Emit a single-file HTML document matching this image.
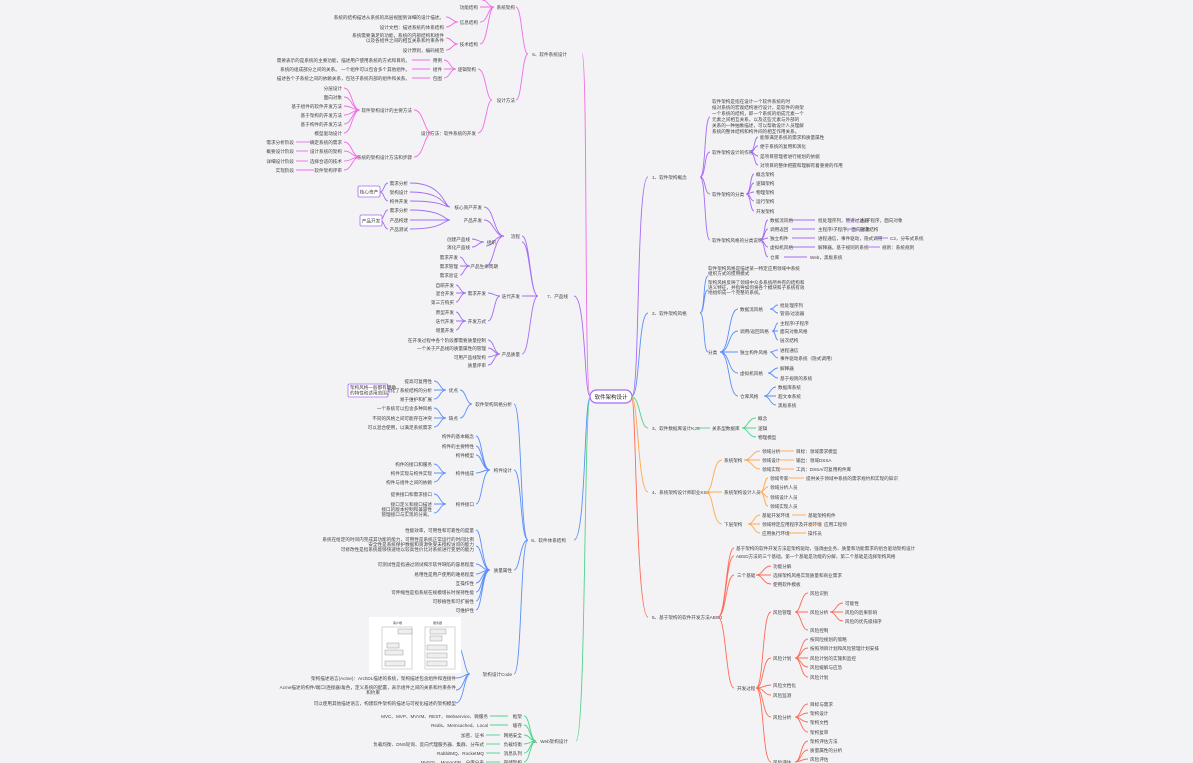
<!DOCTYPE html>
<html><head><meta charset="utf-8"><style>
html,body{margin:0;padding:0;background:#f3f2f5;}
svg{display:block;font-family:"Liberation Sans","Noto Sans CJK SC",sans-serif;}
text{font-size:4.6px;fill:#444;}
.pk{stroke:#f26ce6}.pu{stroke:#a66cf5}.bl{stroke:#5b8ff9}.gr{stroke:#4fd48a}.or{stroke:#ffa94d}.rd{stroke:#ff6b57}
path,line{fill:none;stroke-width:0.9}
</style></head><body>
<svg width="1193" height="763" viewBox="0 0 1193 763" xmlns="http://www.w3.org/2000/svg">
<rect width="1193" height="763" fill="#f3f2f5"/>

<!-- ROOT -->
<rect x="590" y="390" width="42" height="13" rx="6.5" fill="#fff" stroke="#a66cf5" stroke-width="1.2"/>
<text x="611" y="399" text-anchor="middle" style="font-size:5.5px;fill:#222">软件架构设计</text>

<!-- ===== RIGHT SIDE ===== -->
<!-- trunk connectors -->
<path class="pu" d="M632 396 C640 396,636 177,648 177"/>
<path class="bl" d="M632 396 C640 396,638 313,648 313"/>
<path class="gr" d="M632 397 C640 397,640 428,648 428"/>
<path class="or" d="M632 398 C638 398,638 492,648 492"/>
<path class="rd" d="M632 399 C636 399,636 617,648 617"/>

<!-- Branch 1 purple -->
<text x="652" y="179">1、软件架构概念</text>
<path class="pu" d="M700 177 C706 177,704 117,710 117 M700 177 C706 177,704 152,710 152 M700 177 C706 177,704 194,710 194 M700 177 C706 177,704 240,710 240"/>
<text x="712" y="103">软件架构是指在设计一个软件系统的时</text>
<text x="712" y="109">候对系统的宏观结构进行设计，是软件的骨架</text>
<text x="712" y="115">一个系统的结构，即一个系统的组成元素一个</text>
<text x="712" y="121">元素之间相互关系，以及这些元素与外部的</text>
<text x="712" y="127">关系的一种抽象描述，可以帮助设计人员理解</text>
<text x="712" y="133">系统的整体结构和构件间的相互作用关系。</text>
<text x="712" y="154">软件架构设计的作用</text>
<path class="pu" d="M750 152 C755 152,754 137,758 137 M750 152 C755 152,754 146,758 146 M750 152 C755 152,754 156,758 156 M750 152 C755 152,754 165,758 165"/>
<text x="760" y="139">能够满足系统的需求和质量属性</text>
<text x="760" y="148">便于系统的复用和演化</text>
<text x="760" y="158">是项目管理者进行规划的依据</text>
<text x="760" y="167">对项目的整体把握和理解有着重要的作用</text>
<text x="712" y="196">软件架构的分类</text>
<path class="pu" d="M746 194 C751 194,750 174,754 174 M746 194 C751 194,750 183,754 183 M746 194 C751 194,750 192,754 192 M746 194 C751 194,750 201,754 201 M746 194 C751 194,750 211,754 211"/>
<text x="756" y="176">概念架构</text><text x="756" y="185">逻辑架构</text><text x="756" y="194">物理架构</text><text x="756" y="203">运行架构</text><text x="756" y="213">开发架构</text>
<text x="712" y="242">软件架构风格的分类说明</text>
<path class="pu" d="M760 240 C765 240,764 220,768 220 M760 240 C765 240,764 229,768 229 M760 240 C765 240,764 238,768 238 M760 240 C765 240,764 247,768 247 M760 240 C765 240,764 257,768 257"/>
<text x="770" y="222">数据流风格</text><text x="770" y="231">调用返回</text><text x="770" y="240">独立构件</text><text x="770" y="249">虚拟机风格</text><text x="770" y="259">仓库</text>
<line class="pu" x1="792" y1="220" x2="815" y2="220"/><text x="818" y="222">批处理序列，管道过滤器</text><line class="pu" x1="846" y1="220" x2="858" y2="220"/><text x="860" y="222">主/子程序，面向对象</text>
<line class="pu" x1="792" y1="229" x2="815" y2="229"/><text x="818" y="231">主程序/子程序，面向对象</text><line class="pu" x1="846" y1="229" x2="858" y2="229"/><text x="860" y="231">层次结构</text>
<line class="pu" x1="792" y1="238" x2="815" y2="238"/><text x="818" y="240">进程通信，事件驱动，隐式调用</text><line class="pu" x1="876" y1="238" x2="888" y2="238"/><text x="890" y="240">C2，分布式系统</text>
<line class="pu" x1="792" y1="247" x2="815" y2="247"/><text x="818" y="249">解释器，基于规则的系统</text><line class="pu" x1="868" y1="247" x2="880" y2="247"/><text x="882" y="249">规则：系统规则</text>
<line class="pu" x1="784" y1="257" x2="807" y2="257"/><text x="810" y="259">Web，黑板系统</text>

<!-- Branch 2 blue -->
<text x="652" y="315">2、软件架构风格</text>
<path class="bl" d="M700 313 C705 313,703 276,708 276 M700 313 C705 313,703 290,708 290 M700 313 C705 313,703 352,708 352"/>
<text x="708" y="270">软件架构风格是描述某一特定应用领域中系统</text><text x="708" y="275">组织方式的惯用模式</text>
<text x="708" y="284">架构风格反映了领域中众多系统所共有的结构和</text><text x="708" y="289">语义特征，并指导如何将各个模块和子系统有效</text><text x="708" y="294">地组织成一个完整的系统。</text>
<text x="708" y="354">分类</text>
<path class="bl" d="M720 352 C730 352,728 309,738 309 M720 352 C730 352,728 331,738 331 M720 352 L738 352 M720 352 C730 352,728 373,738 373 M720 352 C730 352,728 396,738 396"/>
<text x="740" y="311">数据流风格</text><text x="740" y="333">调用/返回风格</text><text x="740" y="354">独立构件风格</text><text x="740" y="375">虚拟机风格</text><text x="740" y="398">仓库风格</text>
<path class="bl" d="M770 309 C775 309,774 305,778 305 M770 309 C775 309,774 313,778 313"/>
<text x="780" y="307">批处理序列</text><text x="780" y="315">管道/过滤器</text>
<path class="bl" d="M772 331 C776 331,775 323,778 323 M772 331 L778 331 M772 331 C776 331,775 340,778 340"/>
<text x="780" y="325">主程序/子程序</text><text x="780" y="333">面向对象风格</text><text x="780" y="342">层次结构</text>
<path class="bl" d="M770 352 C774 352,774 350,778 350 M770 352 C774 352,774 358,778 358"/>
<text x="780" y="352">进程通信</text><text x="780" y="360">事件驱动系统（隐式调用）</text>
<path class="bl" d="M768 373 C773 373,773 368,778 368 M768 373 C773 373,773 378,778 378"/>
<text x="780" y="370">解释器</text><text x="780" y="380">基于规则的系统</text>
<path class="bl" d="M764 396 C770 396,770 387,776 387 M764 396 L776 396 M764 396 C770 396,770 405,776 405"/>
<text x="778" y="389">数据库系统</text><text x="778" y="398">超文本系统</text><text x="778" y="407">黑板系统</text>

<!-- Branch 3 green -->
<text x="652" y="430">3、软件数据库设计KJS</text>
<line class="gr" x1="696" y1="428" x2="710" y2="428"/>
<text x="712" y="430">关系型数据库</text>
<path class="gr" d="M742 428 C748 428,748 418,756 418 M742 428 L756 428 M742 428 C748 428,748 437,756 437"/>
<text x="758" y="420">概念</text><text x="758" y="430">逻辑</text><text x="758" y="439">物理模型</text>

<!-- Branch 4 orange -->
<text x="652" y="494">4、系统架构设计师职业KSA</text>
<path class="or" d="M706 492 C714 492,712 460,722 460 M706 492 L722 492 M706 492 C714 492,712 524,722 524"/>
<text x="724" y="462">系统架构</text><text x="724" y="494">系统架构设计人员</text><text x="724" y="526">下层架构</text>
<path class="or" d="M744 460 C752 460,752 451,760 451 M744 460 L760 460 M744 460 C752 460,752 469,760 469"/>
<text x="762" y="453">领域分析</text><text x="762" y="462">领域设计</text><text x="762" y="471">领域实现</text>
<line class="or" x1="780" y1="451" x2="794" y2="451"/><text x="796" y="453">目标：领域需求模型</text>
<line class="or" x1="780" y1="460" x2="794" y2="460"/><text x="796" y="462">输出：领域DSSA</text>
<line class="or" x1="780" y1="469" x2="794" y2="469"/><text x="796" y="471">工具：DSSA/可复用构件库</text>
<path class="or" d="M760 492 C765 492,764 478,768 478 M760 492 C765 492,764 487,768 487 M760 492 C765 492,764 497,768 497 M760 492 C765 492,764 506,768 506"/>
<text x="770" y="480">领域专家</text><text x="770" y="489">领域分析人员</text><text x="770" y="499">领域设计人员</text><text x="770" y="508">领域实现人员</text>
<line class="or" x1="788" y1="478" x2="804" y2="478"/><text x="806" y="480">提供关于领域中系统的需求规约和实现的知识</text>
<path class="or" d="M748 524 C754 524,754 515,760 515 M748 524 L760 524 M748 524 C754 524,754 533,760 533"/>
<text x="762" y="517">基础开发环境</text><text x="762" y="526">领域特定应用程序及开发环境</text><text x="762" y="535">应用执行环境</text>
<line class="or" x1="792" y1="515" x2="806" y2="515"/><text x="808" y="517">基础架构构件</text>
<line class="or" x1="808" y1="524" x2="822" y2="524"/><text x="824" y="526">应用工程师</text>
<line class="or" x1="788" y1="533" x2="806" y2="533"/><text x="808" y="535">操作员</text>

<!-- Branch 5 red -->
<text x="652" y="619">5、基于架构的软件开发方法ABSD</text>
<path class="rd" d="M718 617 C726 617,726 548,734 548 M718 617 C726 617,726 556,734 556 M718 617 C726 617,726 575,734 575 M718 617 C726 617,726 688,734 688"/>
<text x="736" y="550">基于架构的软件开发方法是架构驱动，强调由业务、质量和功能需求的组合驱动架构设计</text>
<text x="736" y="558">ABSD方法的三个基础，第一个基础是功能的分解，第二个基础是选择架构风格</text>
<text x="737" y="577">三个基础</text>
<path class="rd" d="M756 575 C763 575,763 566,771 566 M756 575 L771 575 M756 575 C763 575,763 584,771 584"/>
<text x="773" y="568">功能分解</text><text x="773" y="577">选择架构风格实现质量和商业需求</text><text x="773" y="586">使用软件模板</text>
<text x="737" y="690">开发过程</text>
<path class="rd" d="M756 688 C764 688,762 612,771 612 M756 688 C764 688,762 658,771 658 M756 688 C764 688,764 685,771 685 M756 688 C764 688,764 695,771 695 M756 688 C764 688,762 717,771 717 M756 688 C764 688,762 762,771 762"/>
<text x="773" y="614">风险管理</text><text x="773" y="660">风险计划</text><text x="773" y="687">风险文档化</text><text x="773" y="697">风险监测</text><text x="773" y="719">风险分析</text><text x="773" y="764">风险评估</text>
<path class="rd" d="M795 612 C801 612,801 593,808 593 M795 612 L808 612 M795 612 C801 612,801 630,808 630"/>
<text x="810" y="595">风险识别</text><text x="810" y="614">风险分析</text><text x="810" y="632">风险控制</text>
<path class="rd" d="M830 612 C836 612,836 603,843 603 M830 612 L843 612 M830 612 C836 612,836 621,843 621"/>
<text x="845" y="605">可能性</text><text x="845" y="614">风险的后果影响</text><text x="845" y="623">风险的优先级排序</text>
<path class="rd" d="M795 658 C801 658,801 639,808 639 M795 658 C801 658,801 648,808 648 M795 658 L808 658 M795 658 C801 658,801 667,808 667 M795 658 C801 658,801 677,808 677"/>
<text x="810" y="641">按风险规划的策略</text><text x="810" y="650">按照项目计划和风险管理计划安排</text><text x="810" y="660">风险计划的实施和监控</text><text x="810" y="669">风险缓解与应急</text><text x="810" y="679">风险计划</text>
<path class="rd" d="M795 717 C801 717,801 704,808 704 M795 717 C801 717,801 713,808 713 M795 717 C801 717,801 722,808 722 M795 717 C801 717,801 732,808 732"/>
<text x="810" y="706">目标与需求</text><text x="810" y="715">架构设计</text><text x="810" y="724">架构文档</text><text x="810" y="734">架构复审</text>
<path class="rd" d="M795 762 C801 762,801 741,808 741 M795 762 C801 762,801 750,808 750 M795 762 C801 762,801 759,808 759"/>
<text x="810" y="743">架构评估方法</text><text x="810" y="752">质量属性的分析</text><text x="810" y="761">风险评估</text>

<!-- ===== LEFT SIDE ===== -->
<path class="pk" d="M590 395 C584 395,588 54,582 54"/>
<path class="pu" d="M590 396 C584 396,586 296,574 296"/>
<path class="bl" d="M590 398 C584 398,586 540,574 540"/>
<path class="gr" d="M590 399 C584 399,586 741,576 741"/>

<!-- Branch 6 pink -->
<text x="567" y="56" text-anchor="end">6、软件系统设计</text>
<path class="pk" d="M528 54 C522 54,522 7,516 7 M528 54 C522 54,522 100,516 100"/>
<text x="515" y="9" text-anchor="end">系统架构</text>
<text x="515" y="102" text-anchor="end">设计方法</text>
<path class="pk" d="M494 7 C488 7,488 0,482 0 M494 7 L480 7 M494 7 C488 7,488 22,480 22 M494 7 C488 7,488 44,480 44"/>
<text x="478" y="9" text-anchor="end">功能结构</text><text x="478" y="24" text-anchor="end">信息结构</text><text x="478" y="46" text-anchor="end">技术结构</text>
<path class="pk" d="M458 22 C452 22,452 17,446 17 M458 22 C452 22,452 27,446 27"/>
<text x="444" y="19" text-anchor="end">系统的结构描述从系统的高层视图到详细的设计描述。</text>
<text x="444" y="29" text-anchor="end">设计文档：描述系统的体系结构</text>
<path class="pk" d="M458 44 C452 44,452 38,446 38 M458 44 C452 44,452 50,446 50"/>
<text x="444" y="37" text-anchor="end">系统需要满足的功能，系统的内部结构和组件</text>
<text x="444" y="42" text-anchor="end">以及各组件之间的相互关系和约束条件</text>
<text x="444" y="52" text-anchor="end">设计原则，编码规范</text>
<path class="pk" d="M492 100 C486 100,486 69,478 69 M492 100 C486 100,486 133,478 133"/>
<text x="476" y="71" text-anchor="end">逻辑架构</text>
<path class="pk" d="M456 69 C450 69,450 60,444 60 M456 69 L444 69 M456 69 C450 69,450 78,444 78"/>
<text x="442" y="62" text-anchor="end">用例</text><text x="442" y="71" text-anchor="end">组件</text><text x="442" y="80" text-anchor="end">包图</text>
<line class="pk" x1="430" y1="60" x2="412" y2="60"/><text x="410" y="62" text-anchor="end">需要表示的是系统的主要功能，描述用户使用系统的方式和目的。</text>
<line class="pk" x1="430" y1="69" x2="412" y2="69"/><text x="410" y="71" text-anchor="end">系统的组成部分之间的关系。  一个组件可以包含多个其他组件。</text>
<line class="pk" x1="430" y1="78" x2="412" y2="78"/><text x="410" y="80" text-anchor="end">描述各个子系统之间的依赖关系，包括子系统内部的组件和关系。</text>
<text x="476" y="135" text-anchor="end">设计方法：软件系统的开发</text>
<path class="pk" d="M432 133 C424 133,424 110,414 110 M432 133 C424 133,424 157,414 157"/>
<text x="412" y="112" text-anchor="end">软件架构设计的主要方法</text>
<text x="412" y="159" text-anchor="end">系统的架构设计方法和步骤</text>
<path class="pk" d="M360 110 C352 110,352 88,344 88 M360 110 C352 110,352 97,344 97 M360 110 C352 110,352 106,344 106 M360 110 C352 110,352 115,344 115 M360 110 C352 110,352 124,344 124 M360 110 C352 110,352 133,344 133"/>
<text x="342" y="90" text-anchor="end">分层设计</text><text x="342" y="99" text-anchor="end">面向对象</text><text x="342" y="108" text-anchor="end">基于组件的软件开发方法</text><text x="342" y="117" text-anchor="end">基于架构的开发方法</text><text x="342" y="126" text-anchor="end">基于构件的开发方法</text><text x="342" y="135" text-anchor="end">模型驱动设计</text>
<path class="pk" d="M360 157 C352 157,352 142,344 142 M360 157 C352 157,352 151,344 151 M360 157 C352 157,352 161,344 161 M360 157 C352 157,352 170,344 170"/>
<text x="342" y="144" text-anchor="end">确定系统的需求</text><text x="342" y="153" text-anchor="end">设计系统的架构</text><text x="342" y="163" text-anchor="end">选择合适的技术</text><text x="342" y="172" text-anchor="end">软件架构评审</text>
<line class="pk" x1="310" y1="142" x2="296" y2="142"/><text x="294" y="144" text-anchor="end">需求分析阶段</text>
<line class="pk" x1="308" y1="151" x2="296" y2="151"/><text x="294" y="153" text-anchor="end">概要设计阶段</text>
<line class="pk" x1="308" y1="161" x2="296" y2="161"/><text x="294" y="163" text-anchor="end">详细设计阶段</text>
<line class="pk" x1="314" y1="170" x2="296" y2="170"/><text x="294" y="172" text-anchor="end">实现阶段</text>

<!-- Branch 7 purple -->
<text x="568" y="298" text-anchor="end">7、产品线</text>
<path class="pu" d="M538 296 C530 296,530 236,522 236 M538 296 C530 296,530 242,522 242 M538 296 L522 296 M538 296 C530 296,530 354,522 354"/>
<text x="520" y="238" text-anchor="end">流程</text>
<path class="pu" d="M504 236 C494 236,494 207,484 207 M504 236 C494 236,494 220,484 220 M504 236 C494 236,494 246,486 246 M504 236 C494 236,494 266,486 266"/>
<text x="482" y="209" text-anchor="end">核心资产开发</text><text x="482" y="222" text-anchor="end">产品开发</text>
<path class="pu" d="M450 207 C444 207,444 183,410 183 M450 207 C444 207,444 192,410 192 M450 207 C444 207,444 201,410 201"/>
<text x="408" y="185" text-anchor="end">需求分析</text><text x="408" y="194" text-anchor="end">架构设计</text><text x="408" y="203" text-anchor="end">构件开发</text>
<path class="pu" d="M450 220 C444 220,444 210,410 210 M450 220 L410 220 M450 220 C444 220,444 229,410 229"/>
<text x="408" y="212" text-anchor="end">需求分析</text><text x="408" y="222" text-anchor="end">产品构建</text><text x="408" y="231" text-anchor="end">产品测试</text>
<path class="pu" d="M388 183 C384 183,384 192,380 192 M388 201 C384 201,384 192,380 192 M388 210 C384 210,384 220,380 220 M388 229 C384 229,384 220,380 220"/>
<rect x="358" y="186" width="22" height="11" rx="1.5" fill="#fff" stroke="#a66cf5" stroke-width="0.8"/><text x="369" y="193.5" text-anchor="middle">核心资产</text>
<rect x="360" y="215" width="22" height="11" rx="1.5" fill="#fff" stroke="#a66cf5" stroke-width="0.8"/><text x="371" y="222.5" text-anchor="middle">产品开发</text>
<text x="496" y="244" text-anchor="end">组织</text>
<path class="pu" d="M484 242 C478 242,478 239,472 239 M484 242 C478 242,478 247,472 247"/>
<text x="470" y="241" text-anchor="end">创建产品线</text><text x="470" y="249" text-anchor="end">演化产品线</text>
<text x="498" y="268" text-anchor="end">产品生命周期</text>
<path class="pu" d="M470 266 C464 266,464 257,460 257 M470 266 L460 266 M470 266 C464 266,464 275,460 275"/>
<text x="458" y="259" text-anchor="end">需求开发</text><text x="458" y="268" text-anchor="end">需求管理</text><text x="458" y="277" text-anchor="end">需求验证</text>
<text x="520" y="298" text-anchor="end">迭代开发</text>
<path class="pu" d="M500 296 C494 296,494 293,488 293 M500 296 C494 296,494 321,488 321"/>
<text x="486" y="295" text-anchor="end">需求开发</text><text x="486" y="323" text-anchor="end">开发方式</text>
<path class="pu" d="M466 293 C460 293,460 285,456 285 M466 293 L456 293 M466 293 C460 293,460 302,456 302"/>
<text x="454" y="287" text-anchor="end">自研开发</text><text x="454" y="295" text-anchor="end">混合开发</text><text x="454" y="304" text-anchor="end">第三方购买</text>
<path class="pu" d="M466 321 C460 321,460 312,456 312 M466 321 L456 321 M466 321 C460 321,460 330,456 330"/>
<text x="454" y="314" text-anchor="end">原型开发</text><text x="454" y="323" text-anchor="end">迭代开发</text><text x="454" y="332" text-anchor="end">增量开发</text>
<text x="520" y="356" text-anchor="end">产品质量</text>
<path class="pu" d="M500 354 C494 354,494 340,488 340 M500 354 C494 354,494 348,488 348 M500 354 C494 354,494 357,488 357 M500 354 C494 354,494 365,488 365"/>
<text x="486" y="342" text-anchor="end">在开发过程中各个阶段都需要质量控制</text><text x="486" y="350" text-anchor="end">一个关于产品线的质量属性的管理</text><text x="486" y="359" text-anchor="end">可用产品线架构</text><text x="486" y="367" text-anchor="end">质量评审</text>

<!-- Branch 8 blue -->
<text x="566" y="542" text-anchor="end">8、软件体系结构</text>
<path class="bl" d="M528 540 C520 540,522 404,514 404 M528 540 C520 540,522 470,514 470 M528 540 C520 540,520 570,514 570 M528 540 C520 540,522 674,514 674"/>
<text x="512" y="406" text-anchor="end">软件架构风格分析</text>
<path class="bl" d="M472 404 C466 404,466 390,460 390 M472 404 C466 404,466 418,460 418"/>
<text x="458" y="392" text-anchor="end">优点</text><text x="458" y="420" text-anchor="end">缺点</text>
<path class="bl" d="M446 390 C440 390,440 381,434 381 M446 390 L434 390 M446 390 C440 390,440 399,434 399"/>
<text x="432" y="383" text-anchor="end">提高可复用性</text><text x="432" y="392" text-anchor="end">简化了系统结构的分析</text><text x="432" y="401" text-anchor="end">易于维护和扩展</text>
<rect x="348" y="384" width="40" height="13" rx="1.5" fill="#fff" stroke="#a66cf5" stroke-width="0.8"/>
<text x="350" y="389">架构风格一般都有明确</text><text x="350" y="394.5">的特性和适用范围。</text>
<path class="bl" d="M446 418 C440 418,440 408,434 408 M446 418 L434 418 M446 418 C440 418,440 427,434 427"/>
<text x="432" y="410" text-anchor="end">一个系统可以包含多种风格</text><text x="432" y="420" text-anchor="end">不同的风格之间可能存在冲突</text><text x="432" y="429" text-anchor="end">可以混合使用，以满足系统需求</text>
<text x="512" y="472" text-anchor="end">构件设计</text>
<path class="bl" d="M490 470 C482 470,482 436,476 436 M490 470 C482 470,482 446,476 446 M490 470 C482 470,482 455,476 455 M490 470 C482 470,482 473,476 473 M490 470 C482 470,482 504,476 504"/>
<text x="474" y="438" text-anchor="end">构件的基本概念</text><text x="474" y="448" text-anchor="end">构件的主要特性</text><text x="474" y="457" text-anchor="end">构件模型</text>
<text x="474" y="475" text-anchor="end">构件组成</text><text x="474" y="506" text-anchor="end">构件接口</text>
<path class="bl" d="M446 473 C440 473,440 464,434 464 M446 473 L434 473 M446 473 C440 473,440 482,434 482"/>
<text x="432" y="466" text-anchor="end">构件的接口和服务</text><text x="432" y="475" text-anchor="end">构件实现与构件实现</text><text x="432" y="484" text-anchor="end">构件与组件之间的依赖</text>
<path class="bl" d="M446 504 C440 504,440 494,434 494 M446 504 L434 504 M446 504 C440 504,440 513,434 513"/>
<text x="432" y="496" text-anchor="end">提供接口和需求接口</text><text x="432" y="506" text-anchor="end">接口定义和接口描述</text><text x="432" y="511" text-anchor="end">接口的版本控制和兼容性</text><text x="432" y="516" text-anchor="end">管理接口与实现的分离。</text>
<text x="512" y="572" text-anchor="end">质量属性</text>
<path class="bl" d="M490 570 C482 570,482 530,476 530 M490 570 C482 570,482 546,476 546 M490 570 C482 570,482 564,476 564 M490 570 C482 570,482 574,476 574 M490 570 C482 570,482 583,476 583 M490 570 C482 570,482 592,476 592 M490 570 C482 570,482 601,476 601 M490 570 C482 570,482 610,476 610"/>
<text x="474" y="532" text-anchor="end">性能效率，可用性和可靠性的度量</text>
<text x="474" y="541" text-anchor="end">系统在给定的时间内完成其功能的能力，可用性是系统正常运行的时间比例</text>
<text x="474" y="546" text-anchor="end">安全性是系统保护数据和资源免受未授权访问的能力</text>
<text x="474" y="551" text-anchor="end">可修改性是指系统能够快速地以较高性价比对系统进行变更的能力</text>
<text x="474" y="566" text-anchor="end">可测试性是指通过测试揭示软件缺陷的容易程度</text>
<text x="474" y="576" text-anchor="end">易用性是用户使用的难易程度</text>
<text x="474" y="585" text-anchor="end">互操作性</text>
<text x="474" y="594" text-anchor="end">可伸缩性是指系统在规模增长时保持性能</text>
<text x="474" y="603" text-anchor="end">可移植性和可扩展性</text>
<text x="474" y="612" text-anchor="end">可维护性</text>
<text x="512" y="676" text-anchor="end">架构设计Code</text>
<path class="bl" d="M470 674 C464 674,464 645,456 645 M470 674 C464 674,464 678,456 678 M470 674 C464 674,464 690,456 690 M470 674 C464 674,464 703,456 703"/>
<rect x="369" y="617" width="92" height="56" fill="#fff"/>
<rect x="382" y="627" width="30" height="42" fill="none" stroke="#bbb" stroke-width="0.6"/>
<rect x="425" y="627" width="30" height="42" fill="none" stroke="#bbb" stroke-width="0.6"/>
<rect x="398" y="629" width="14" height="5" fill="#eee" stroke="#888" stroke-width="0.4"/>
<rect x="430" y="629" width="16" height="5" fill="#eee" stroke="#888" stroke-width="0.4"/>
<rect x="430" y="636" width="12" height="5" fill="#eee" stroke="#888" stroke-width="0.4"/>
<rect x="427" y="645" width="20" height="5" fill="#eee" stroke="#888" stroke-width="0.4"/>
<rect x="427" y="653" width="20" height="5" fill="#eee" stroke="#888" stroke-width="0.4"/>
<rect x="427" y="661" width="20" height="5" fill="#eee" stroke="#888" stroke-width="0.4"/>
<rect x="387" y="643" width="12" height="5" fill="#eee" stroke="#888" stroke-width="0.4"/>
<rect x="385" y="650" width="18" height="5" fill="#eee" stroke="#888" stroke-width="0.4"/>
<rect x="385" y="661" width="20" height="5" fill="#eee" stroke="#888" stroke-width="0.4"/>
<text x="393" y="624" style="font-size:3px">客户端</text><text x="433" y="624" style="font-size:3px">服务器</text>
<text x="456" y="680" text-anchor="end">架构描述语言(Acme)：ArchDL描述的系统，架构描述包含组件和连接件</text>
<text x="456" y="689" text-anchor="end">Acme描述的构件/端口/连接器/角色，定义系统的配置，表示组件之间的关系和约束条件</text>
<text x="380" y="694" text-anchor="end">和约束</text>
<text x="456" y="705" text-anchor="end">可以使用其他描述语言，构建软件架构的描述与可视化描述的架构模型</text>

<!-- Branch 9 green -->
<text x="568" y="743" text-anchor="end">5、Web架构设计</text>
<path class="gr" d="M536 741 C530 741,530 716,524 716 M536 741 C530 741,530 725,524 725 M536 741 C530 741,530 735,524 735 M536 741 C530 741,530 744,524 744 M536 741 C530 741,530 753,524 753 M536 741 C530 741,530 762,524 762"/>
<text x="522" y="718" text-anchor="end">框架</text><text x="522" y="727" text-anchor="end">缓存</text><text x="522" y="737" text-anchor="end">网络安全</text><text x="522" y="746" text-anchor="end">负载均衡</text><text x="522" y="755" text-anchor="end">消息队列</text><text x="522" y="764" text-anchor="end">存储架构</text>
<line class="gr" x1="508" y1="716" x2="490" y2="716"/><text x="488" y="718" text-anchor="end">MVC、MVP、MVVM、REST、Webservice、微服务</text>
<line class="gr" x1="508" y1="725" x2="490" y2="725"/><text x="488" y="727" text-anchor="end">Redis、Memcached、Local</text>
<line class="gr" x1="500" y1="735" x2="486" y2="735"/><text x="484" y="737" text-anchor="end">加密、证书</text>
<line class="gr" x1="500" y1="744" x2="486" y2="744"/><text x="484" y="746" text-anchor="end">负载均衡、DNS轮询、反向代理服务器、集群、分布式</text>
<line class="gr" x1="500" y1="753" x2="486" y2="753"/><text x="484" y="755" text-anchor="end">RabbitMQ、RocketMQ</text>
<line class="gr" x1="500" y1="762" x2="486" y2="762"/><text x="484" y="764" text-anchor="end">MySQL、MongoDB、分库分表</text>
</svg>
</body></html>
